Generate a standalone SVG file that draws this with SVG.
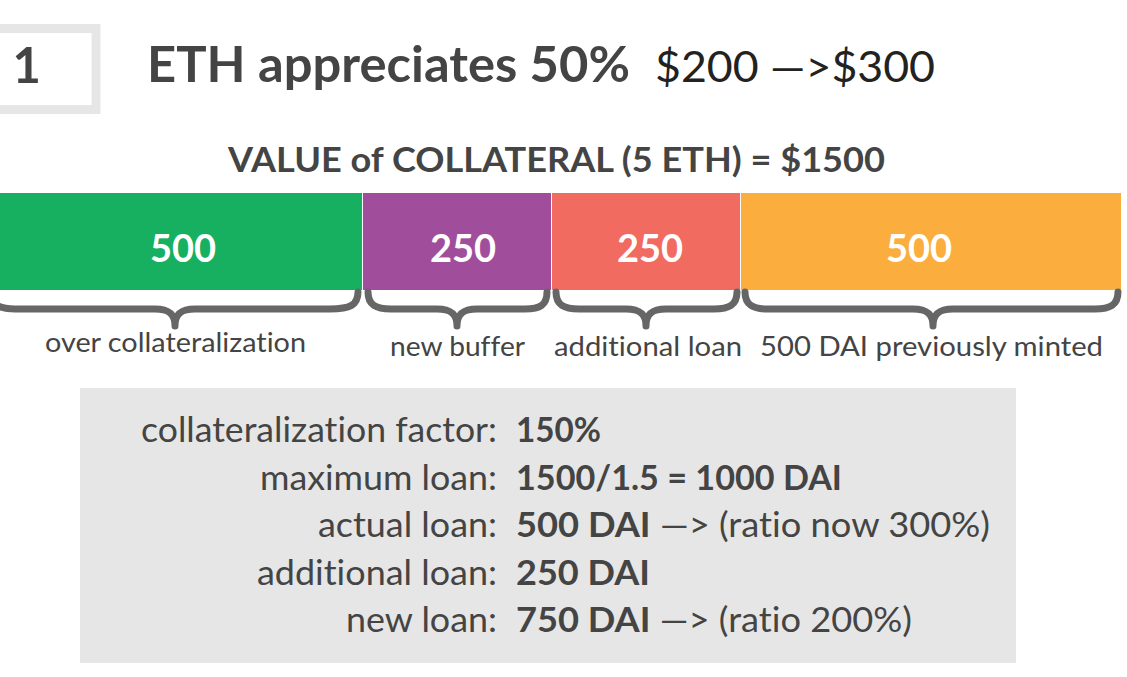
<svg xmlns="http://www.w3.org/2000/svg" width="1127" height="677" viewBox="0 0 1127 677">
<style>
text{font-family:Lato,"Open Sans","Liberation Sans",sans-serif;fill:#444;font-variant-ligatures:none;font-feature-settings:"liga" 0}
.b{font-weight:700}
.num{font-weight:700;fill:#fff;font-size:38px;text-anchor:middle}
.lab{font-size:27px}
.row{font-size:34px}
.brace{fill:none;stroke:#666;stroke-width:7;stroke-linecap:round;stroke-linejoin:round}
</style>
<rect width="1127" height="677" fill="#fff"/>
<g id="step">
<rect x="-60" y="28.5" width="156" height="81" fill="#fff" stroke="#e6e6e6" stroke-width="9"/>
<text x="41" y="83" class="b" font-size="49" text-anchor="end">Step 1</text>
</g>
<g id="title">
<text x="147" y="82" class="b" font-size="50" textLength="483" lengthAdjust="spacingAndGlyphs">ETH appreciates 50%</text>
<text x="655" y="82" font-size="43" style="fill:#222" textLength="280" lengthAdjust="spacingAndGlyphs">$200 —&gt;$300</text>
</g>
<g id="value-heading">
<text x="228" y="172" class="b" font-size="34" textLength="657" lengthAdjust="spacingAndGlyphs">VALUE of COLLATERAL (5 ETH) = $1500</text>
</g>
<g id="bar-over">
<rect x="-5" y="193" width="367" height="97" fill="#16b060"/>
<text x="183" y="262" class="num">500</text>
</g>
<g id="bar-buffer">
<rect x="363" y="193" width="188" height="97" fill="#a04e9c"/>
<text x="463" y="262" class="num">250</text>
</g>
<g id="bar-additional">
<rect x="552" y="193" width="188" height="97" fill="#f26b60"/>
<text x="650" y="262" class="num">250</text>
</g>
<g id="bar-minted">
<rect x="741" y="193" width="380" height="97" fill="#fbae3e"/>
<text x="919" y="262" class="num">500</text>
</g>
<g id="connectors">
<path class="brace" d="M-10,292 C-10,305 0,309 15,309 L155,309 C168,309 175,313 175,326 C175,313 182,309 195,309 L330,309 C350,309 358,305 358,292"/>
<path class="brace" d="M368,292 C368,305 376,309 391,309 L437,309 C450,309 457,313 457,326 C457,313 464,309 477,309 L525,309 C540,309 547,305 547,292"/>
<path class="brace" d="M556,292 C556,305 564,309 579,309 L626,309 C639,309 646,313 646,326 C646,313 653,309 666,309 L714,309 C729,309 737,305 737,292"/>
<path class="brace" d="M745,292 C745,305 753,309 768,309 L913,309 C926,309 933,313 933,326 C933,313 940,309 953,309 L1095,309 C1110,309 1118,305 1118,292"/>
</g>
<g id="labels">
<text x="45" y="352" class="lab" textLength="261" lengthAdjust="spacingAndGlyphs">over collateralization</text>
<text x="390" y="356" class="lab" textLength="135" lengthAdjust="spacingAndGlyphs">new buffer</text>
<text x="554" y="356" class="lab" textLength="188" lengthAdjust="spacingAndGlyphs">additional loan</text>
<text x="760" y="356" class="lab" textLength="343" lengthAdjust="spacingAndGlyphs">500 DAI previously minted</text>
</g>
<g id="info">
<rect x="80" y="388" width="936" height="275" fill="#e6e6e6"/>
<g class="row">
<text x="141" y="442" textLength="356" lengthAdjust="spacingAndGlyphs">collateralization factor:</text>
<text x="516" y="442" class="b" textLength="85" lengthAdjust="spacingAndGlyphs">150%</text>
<text x="260" y="490" textLength="237" lengthAdjust="spacingAndGlyphs">maximum loan:</text>
<text x="516" y="490" class="b" textLength="326" lengthAdjust="spacingAndGlyphs">1500/1.5 = 1000 DAI</text>
<text x="318" y="537" textLength="179" lengthAdjust="spacingAndGlyphs">actual loan:</text>
<text x="516" y="537" textLength="474" lengthAdjust="spacingAndGlyphs"><tspan class="b">500 DAI</tspan> —&gt; (ratio now 300%)</text>
<text x="257" y="585" textLength="240" lengthAdjust="spacingAndGlyphs">additional loan:</text>
<text x="516" y="585" class="b" textLength="134" lengthAdjust="spacingAndGlyphs">250 DAI</text>
<text x="346" y="632" textLength="151" lengthAdjust="spacingAndGlyphs">new loan:</text>
<text x="516" y="632" textLength="396" lengthAdjust="spacingAndGlyphs"><tspan class="b">750 DAI</tspan> —&gt; (ratio 200%)</text>
</g>
</g>
</svg>
